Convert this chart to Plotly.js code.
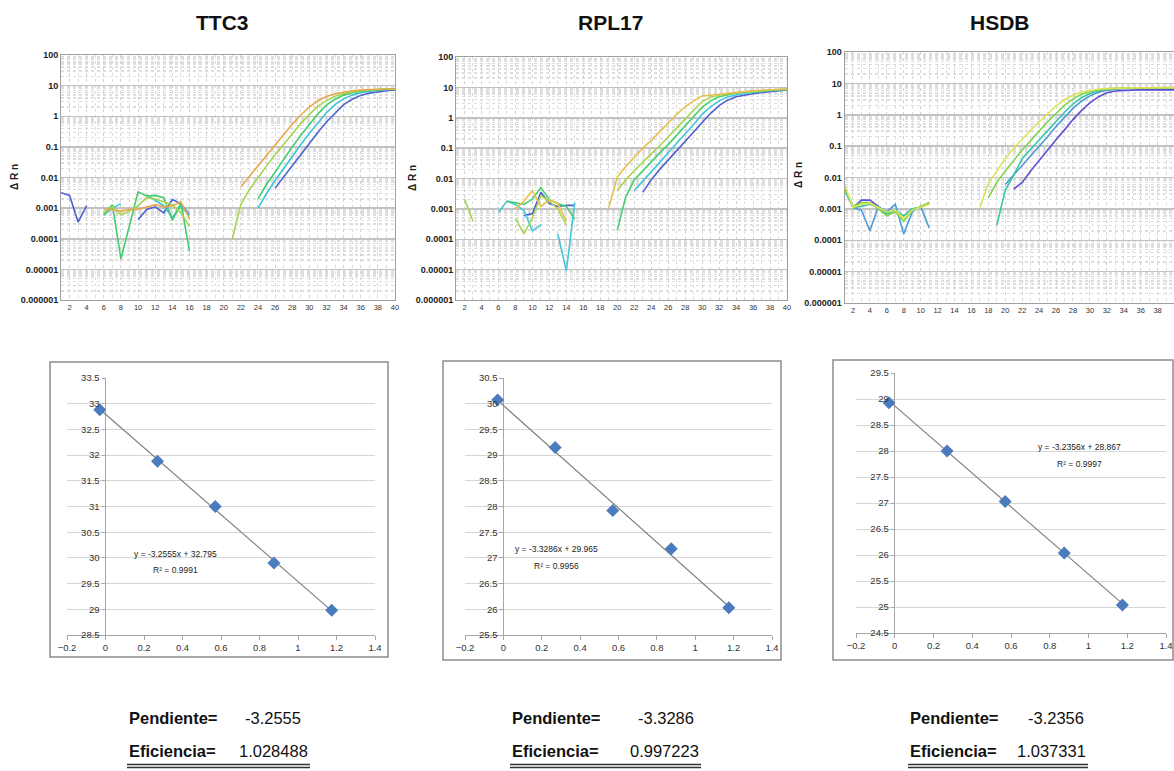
<!DOCTYPE html>
<html><head><meta charset="utf-8">
<script src="https://cdn.plot.ly/plotly-3.0.1.min.js"></script>
<style>html,body{margin:0;padding:0;background:#fff;}#chart{width:1174px;height:771px;}</style>
</head><body><div id="chart"></div>
<script>
const _ = null;
const cycles = [1,2,3,4,5,6,7,8,9,10,11,12,13,14,15,16,17,18,19,20,21,22,23,24,25,26,27,28,29,30,31,32,33,34,35,36,37,38,39,40];
const genes = ["TTC3", "RPL17", "HSDB"];

// ΔRn per cycle (null = not drawn)
const ttc3Orange = [_,_,_,_,_, 0.0009,0.0009,0.0008,0.0009,0.0009,0.0011,0.0013,0.0011,0.0012,0.0016,0.00045, _,_,_,_,_, 0.005,0.011,0.025,0.055,0.12,0.26,0.55,1.1,2.0,3.2,4.4,5.4,6.2,6.8,7.2,7.5,7.7,7.8,7.9];
const ttc3YGreen = [_,_,_,_,_, 0.0007,0.0011,0.0006,0.0008,0.0012,0.0022,0.0020,0.0016,0.0013,0.0007,0.00025, _,_,_,_, 0.0001,0.0013,0.004,0.01,0.024,0.055,0.12,0.27,0.58,1.15,2.1,3.3,4.5,5.5,6.3,6.9,7.3,7.5,7.7,7.8];
const ttc3Green = [_,_,_,_,_, 0.0006,0.0013,0.000022,0.0003,0.0034,0.0025,0.0026,0.0022,0.0004,0.0015,0.00004, _,_,_,_,_,_,_, 0.002,0.006,0.015,0.04,0.1,0.24,0.55,1.2,2.3,3.6,4.9,5.9,6.6,7.1,7.4,7.6,7.8];
const ttc3Cyan = [_,_,_,_,_, 0.0006,0.0010,0.0014,_,_,0.0027,0.0018,0.0012,0.0005,0.0011,0.0006, _,_,_,_,_,_,_, 0.001,0.003,0.008,0.02,0.05,0.12,0.28,0.62,1.3,2.4,3.7,4.9,5.9,6.6,7.1,7.4,7.6];
const ttc3Blue = [0.0032,0.0026,0.00035,0.0012, _,_,_,_,_, 0.00042,0.0009,0.0011,0.0007,0.0019,0.0014,0.0006, _,_,_,_,_,_,_,_,_, 0.0045,0.01,0.024,0.055,0.13,0.3,0.65,1.3,2.4,3.6,4.8,5.7,6.3,6.8,7.2];

const rplGold = [_,_,_,_,_,_,_, 0.001,0.0018,0.004,0.0012,0.002,0.0015,0.0004, _,_,_,_, 0.0011,0.011,0.025,0.05,0.1,0.18,0.35,0.7,1.3,2.3,3.6,5.2,5.4,5.9,6.4,6.9,7.3,7.7,8.0,8.3,8.6,8.8];
const rplYGreen = [_,0.0021,0.0004, _,_,_,_, 0.0005,0.00015,0.0005,0.0027,0.0018,0.001,0.0003, _,_,_,_,_, 0.004,0.009,0.018,0.035,0.065,0.12,0.23,0.45,0.9,1.8,3.4,4.8,5.6,6.2,6.7,7.1,7.5,7.9,8.2,8.5,8.7];
const rplGreen = [_,_,_,_,_,_, 0.0018,0.0016,0.0014,0.0021,0.005,0.002,0.0015,0.0012,0.00046, _,_,_,_, 0.0002,0.0025,0.009,0.018,0.035,0.07,0.13,0.27,0.55,1.1,2.2,3.6,4.9,5.8,6.5,7.0,7.4,7.8,8.1,8.4,8.6];
const rplCyan = [_,_,_,_,_, 0.00076,0.0018,0.0014,0.0009,0.00019,0.0003, _, 0.00015,0.0000091,0.0016, _,_,_,_,_,_, 0.004,0.008,0.016,0.034,0.07,0.14,0.29,0.6,1.3,2.3,3.6,4.8,5.6,6.3,6.9,7.4,7.8,8.2,8.5];
const rplBlue = [_,_,_,_,_,_,_,_, 0.0006,0.0007,0.0035,0.0015,0.0012,0.0013,0.0013, _,_,_,_,_,_,_, 0.0035,0.009,0.02,0.04,0.08,0.16,0.34,0.7,1.4,2.5,3.8,4.9,5.6,6.2,6.8,7.3,7.8,8.2];

const hsdbYellow = [0.006,0.0011,0.0014,0.0015,0.0011,0.0008,0.0009,0.0005,0.0009,0.0011,0.0014, _,_,_,_,_, 0.0011,0.0065,0.016,0.04,0.085,0.17,0.32,0.6,1.1,1.9,3.0,4.2,5.3,6.0,6.5,6.8,7.0,7.1,7.2,7.2,7.3,7.3,7.3,7.3];
const hsdbGreen = [0.005,0.0012,0.0016,0.0016,0.0010,0.0006,0.0008,0.0004,0.0009,0.0012,0.0016, _,_,_,_,_,_, 0.0023,0.007,0.016,0.035,0.075,0.15,0.3,0.6,1.1,2.0,3.2,4.5,5.5,6.2,6.7,7.0,7.1,7.2,7.2,7.3,7.3,7.3,7.3];
const hsdbTeal = [0.004,0.0011,0.0012,0.0014,0.0011,0.0007,0.0009,0.0006,0.001,0.0011,0.0015, _,_,_,_,_,_,_, 0.0003,0.004,0.012,0.04,0.08,0.16,0.32,0.65,1.2,2.2,3.5,4.8,5.8,6.4,6.8,7.0,7.1,7.1,7.2,7.2,7.2,7.2];
const hsdbBlue = [_, 0.0011,0.0009,0.0002,0.0012,0.0008,0.0014,0.00016,0.0008,0.0012,0.00025, _,_,_,_,_,_,_,_, 0.006,0.012,0.025,0.05,0.1,0.2,0.42,0.85,1.6,2.7,4.0,5.2,6.0,6.5,6.8,6.9,7.0,7.0,7.1,7.1,7.1];
const hsdbPurple = [_, 0.0011,0.0019,0.0019,0.0012, _,_,_,_,_,_,_,_,_,_,_,_,_,_,_, 0.0043,0.007,0.016,0.035,0.075,0.16,0.33,0.7,1.35,2.4,3.7,5.0,5.7,6.0,6.1,6.2,6.2,6.2,6.2,6.2];

const ttc3Colors = ["#e8a84a", "#a6d44c", "#3fcc6c", "#3ec4d6", "#4a62d2"];
const rplColors = ["#e6c04a", "#a9d64e", "#44cf6c", "#44c6dc", "#4c5ed0"];
const hsdbColors = ["#dfe255", "#7fd44a", "#34c4a8", "#4a9ad8", "#5e4ed0"];

const decadeVals = [0.000001, 0.00001, 0.0001, 0.001, 0.01, 0.1, 1, 10, 100];
const decadeText = ["0.000001", "0.00001", "0.0001", "0.001", "0.01", "0.1", "1", "10", "100"];

// standard curves
const logDilution = [-0.03, 0.27, 0.57, 0.875, 1.175];
const ttc3Ct = [32.88, 31.88, 31.0, 29.9, 28.98];
const rplCt = [30.07, 29.15, 27.92, 27.18, 26.03];
const hsdbCt = [28.93, 28.0, 27.03, 26.04, 25.04];
const trendX = [-0.03, 1.175];
const ttc3Trend = [32.893, 28.970];
const rplTrend = [30.065, 26.054];
const hsdbTrend = [28.964, 25.065];
const equations = ["y = -3.2555x + 32.795", "y = -3.3286x + 29.965", "y = -3.2356x + 28.867"];
const r2Labels = ["R² = 0.9991", "R² = 0.9956", "R² = 0.9997"];
const slopes = ["-3.2555", "-3.3286", "-3.2356"];
const efficiencies = ["1.028488", "0.997223", "1.037331"];

const W = 1174, H = 771;
const fx = p => p / W;
const fy = p => 1 - p / H;
const FONT = "Liberation Sans, Arial, sans-serif";

const traces = [];
function addCurves(list, colors, xa, ya) {
  list.forEach((y, i) => traces.push({
    x: cycles, y: y, type: "scatter", mode: "lines", xaxis: xa, yaxis: ya,
    connectgaps: false, line: {color: colors[i], width: 1.6}, hoverinfo: "skip"
  }));
}
addCurves([ttc3Blue, ttc3Cyan, ttc3Green, ttc3YGreen, ttc3Orange], [ttc3Colors[4], ttc3Colors[3], ttc3Colors[2], ttc3Colors[1], ttc3Colors[0]], "x", "y");
addCurves([rplBlue, rplCyan, rplGreen, rplYGreen, rplGold], [rplColors[4], rplColors[3], rplColors[2], rplColors[1], rplColors[0]], "x2", "y2");
addCurves([hsdbPurple, hsdbBlue, hsdbTeal, hsdbGreen, hsdbYellow], [hsdbColors[4], hsdbColors[3], hsdbColors[2], hsdbColors[1], hsdbColors[0]], "x3", "y3");

const stdSets = [[ttc3Ct, ttc3Trend], [rplCt, rplTrend], [hsdbCt, hsdbTrend]];
stdSets.forEach((s, i) => {
  const xa = "x" + (i + 4), ya = "y" + (i + 4);
  traces.push({x: trendX, y: s[1], type: "scatter", mode: "lines", xaxis: xa, yaxis: ya,
    line: {color: "#808080", width: 1.2}, hoverinfo: "skip"});
  traces.push({x: logDilution, y: s[0], type: "scatter", mode: "markers", xaxis: xa, yaxis: ya,
    marker: {symbol: "diamond", size: 10, color: "#4a7bbd"}, hoverinfo: "skip"});
});

const minorVals = [];
for (let e = -6; e < 2; e++) for (let k = 2; k <= 9; k++) minorVals.push(k * Math.pow(10, e));

function topX(dom, rng) {
  return {domain: dom, range: rng, tick0: 2, dtick: 2, showgrid: true, gridcolor: "#d2d2d2", griddash: "dot",
    minor: {dtick: 1, showgrid: true, gridcolor: "#dcdcdc", griddash: "dot"},
    showline: true, linecolor: "#a0a0a0", mirror: true, ticks: "", zeroline: false,
    tickfont: {family: FONT, size: 7.5, color: "#333"}, fixedrange: true};
}
function topY(dom, xa) {
  return {domain: dom, type: "log", range: [-6, 2], tickvals: decadeVals, ticktext: decadeText,
    showgrid: true, gridcolor: "#c2c2c2", gridwidth: 1.5, anchor: xa,
    minor: {tickvals: minorVals, showgrid: true, gridcolor: "#dedede", griddash: "dot"},
    showline: true, linecolor: "#a0a0a0", mirror: true, ticks: "", zeroline: false,
    tickfont: {family: FONT, size: 9, color: "#222", weight: "bold"}, fixedrange: true};
}
function botX(dom, ya) {
  return {domain: dom, range: [-0.2, 1.4], tick0: 0, dtick: 0.2, anchor: ya, showgrid: false,
    zeroline: true, zerolinecolor: "#a6a6a6", zerolinewidth: 1,
    showline: true, linecolor: "#a6a6a6", ticks: "outside", ticklen: 4, tickcolor: "#a6a6a6",
    tickfont: {family: FONT, size: 9.5, color: "#333"}, fixedrange: true};
}
function botY(dom, rng, xdom) {
  const pos = xdom[0] + (xdom[1] - xdom[0]) * (0 - (-0.2)) / 1.6;
  return {domain: dom, range: rng, dtick: 0.5, anchor: "free", position: pos, showgrid: true,
    gridcolor: "#d6d6d6", zeroline: false, showline: false, ticks: "outside", ticklen: 4, tickcolor: "#a6a6a6",
    tickfont: {family: FONT, size: 9.5, color: "#333"}, fixedrange: true};
}

const dx4 = [fx(67), fx(375)], dx5 = [fx(465), fx(772)], dx6 = [fx(856), fx(1166)];

const annotations = [];
[[222, "TTC3"], [610, "RPL17"], [1000, "HSDB"]].forEach((t, i) => annotations.push({
  xref: "paper", yref: "paper", x: fx(t[0]), y: fy(22), text: "<b>" + genes[i] + "</b>", showarrow: false,
  font: {family: FONT, size: 21, color: "#111"}, xanchor: "center", yanchor: "middle"}));
[[15, 177], [412, 178], [799, 175]].forEach(p => annotations.push({
  xref: "paper", yref: "paper", x: fx(p[0]), y: fy(p[1]), text: "<b>Δ R n</b>", showarrow: false, textangle: -90,
  font: {family: FONT, size: 10, color: "#222"}, xanchor: "center", yanchor: "middle"}));
[[175, 554, 570], [556, 549, 566], [1079, 447, 464]].forEach((p, i) => {
  annotations.push({xref: "paper", yref: "paper", x: fx(p[0]), y: fy(p[1]), text: equations[i], showarrow: false,
    font: {family: FONT, size: 8.5, color: "#222"}, xanchor: "center", yanchor: "middle"});
  annotations.push({xref: "paper", yref: "paper", x: fx(p[0]), y: fy(p[2]), text: r2Labels[i], showarrow: false,
    font: {family: FONT, size: 8.5, color: "#222"}, xanchor: "center", yanchor: "middle"});
});
const shapes = [];
[[127, 273, 310], [510, 666, 701], [908, 1056, 1088]].forEach((p, i) => {
  annotations.push({xref: "paper", yref: "paper", x: fx(p[0]), y: fy(718), text: "<b>Pendiente=</b>", showarrow: false,
    font: {family: FONT, size: 16.5, color: "#111"}, xanchor: "left", yanchor: "middle"});
  annotations.push({xref: "paper", yref: "paper", x: fx(p[1]), y: fy(718), text: slopes[i], showarrow: false,
    font: {family: FONT, size: 16.5, color: "#111"}, xanchor: "center", yanchor: "middle"});
  annotations.push({xref: "paper", yref: "paper", x: fx(p[0]), y: fy(751), text: "<b>Eficiencia=</b>", showarrow: false,
    font: {family: FONT, size: 16.5, color: "#111"}, xanchor: "left", yanchor: "middle"});
  annotations.push({xref: "paper", yref: "paper", x: fx(p[2]), y: fy(751), text: efficiencies[i], showarrow: false,
    font: {family: FONT, size: 16.5, color: "#111"}, xanchor: "right", yanchor: "middle"});
  [764.5, 767.5].forEach(yy => shapes.push({type: "line", xref: "paper", yref: "paper",
    x0: fx(p[0]), x1: fx(p[2]), y0: fy(yy), y1: fy(yy), line: {color: "#333", width: 1.3}}));
});
[[50, 362, 388, 657], [443, 361, 781, 660], [833, 360, 1173, 660]].forEach(b => shapes.push({
  type: "rect", xref: "paper", yref: "paper", x0: fx(b[0]), x1: fx(b[2]), y0: fy(b[3]), y1: fy(b[1]),
  line: {color: "#8c8c8c", width: 1.5}, fillcolor: "rgba(0,0,0,0)", layer: "below"}));

const layout = {
  width: W, height: H, margin: {l: 0, r: 0, t: 0, b: 0}, showlegend: false,
  paper_bgcolor: "#ffffff", plot_bgcolor: "#ffffff",
  xaxis: topX([fx(61), fx(395)], [1, 40]),
  yaxis: topY([fy(300), fy(55)], "x"),
  xaxis2: Object.assign(topX([fx(456), fx(787)], [1, 40]), {anchor: "y2"}),
  yaxis2: topY([fy(300), fy(57)], "x2"),
  xaxis3: Object.assign(topX([fx(844.5), fx(1174)], [1, 39.94]), {anchor: "y3"}),
  yaxis3: topY([fy(303), fy(52)], "x3"),
  xaxis4: botX(dx4, "y4"),
  yaxis4: botY([fy(635), fy(378)], [28.5, 33.5], dx4),
  xaxis5: botX(dx5, "y5"),
  yaxis5: botY([fy(635), fy(378)], [25.5, 30.5], dx5),
  xaxis6: botX(dx6, "y6"),
  yaxis6: botY([fy(633), fy(373)], [24.5, 29.5], dx6),
  annotations: annotations, shapes: shapes
};
layout.xaxis.anchor = "y";
Plotly.newPlot("chart", traces, layout, {staticPlot: true, displayModeBar: false});
</script></body></html>
